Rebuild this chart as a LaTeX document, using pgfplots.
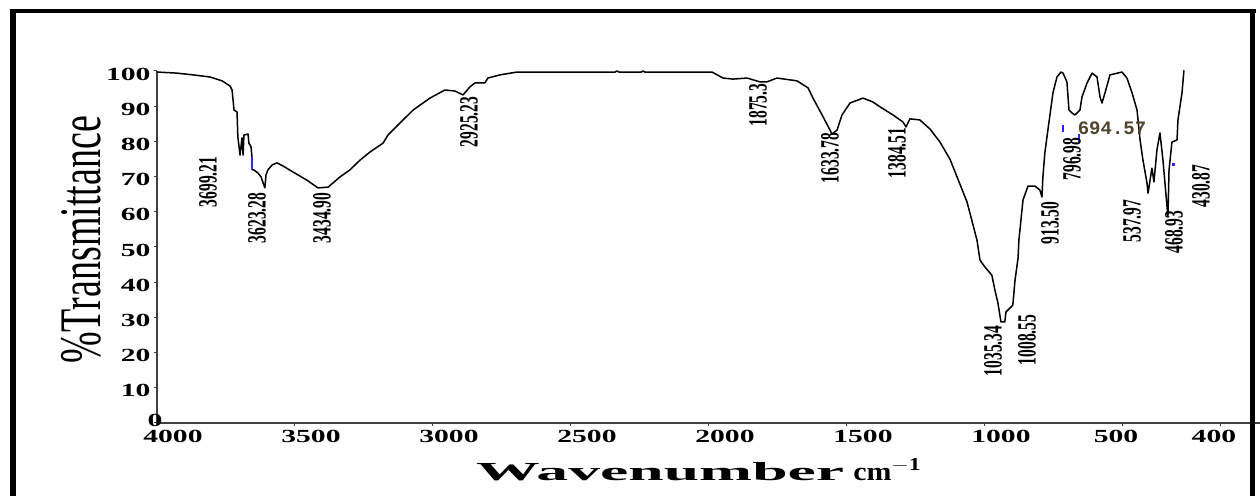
\documentclass[border=0pt]{standalone}
\usepackage{fontspec}
\setmainfont{Liberation Serif}
\setmonofont{Liberation Mono}
\usepackage{graphicx}
\usepackage{pgfplots}
\pgfplotsset{compat=1.18}
\definecolor{peakblue}{RGB}{40,40,255}
\definecolor{lbl}{RGB}{80,68,45}
\newcommand\tlab[1]{\scalebox{1.6}[1]{#1}}
\newcommand\pk[1]{\scalebox{1}[1.7]{\fontsize{15.5}{15.5}\selectfont\bfseries #1}}
\begin{document}
\begin{tikzpicture}
\useasboundingbox (0,0) rectangle (1260pt,495pt);
\begin{axis}[
  at={(157pt,72pt)}, anchor=south west, scale only axis,
  width=1104pt, height=352pt,
  xmin=0, xmax=4000, ymin=0, ymax=100, x dir=reverse,
  axis x line=bottom, axis y line=left,
  axis line style={-, line width=1.3pt, draw=black!75},
  tick align=outside, major tick length=3pt,
  tick style={line width=1pt, black!75},
  ticklabel style={font=\fontsize{18.5}{18.5}\selectfont\bfseries},
  xtick={4000,3500,3000,2500,2000,1500,1000},
  xticklabels={\tlab{4000},\tlab{3500},\tlab{3000},\tlab{2500},\tlab{2000},\tlab{1500},\tlab{1000}},
  xticklabel style={xshift=16pt, yshift=-1pt},
  extra x ticks={500,145},
  extra x tick labels={\tlab{500},\tlab{400}},
  extra x tick style={xticklabel style={xshift=-23pt}},
  ytick={10,20,30,40,50,60,70,80,90,100},
  yticklabels={\tlab{10},\tlab{20},\tlab{30},\tlab{40},\tlab{50},\tlab{60},\tlab{70},\tlab{80},\tlab{90},\tlab{100}},
  yticklabel style={anchor=east, yshift=-3pt},
  extra y ticks={0},
  extra y tick labels={\tlab{0}},
  extra y tick style={yticklabel style={xshift=12pt, yshift=6pt}},
  clip=false,
]
\addplot[black, line width=1.5pt, line join=round] coordinates {
(4000,99.7) (3928,99.4) (3870,98.9) (3808,98.3) (3764,97.2) (3735,95.7) (3728,94.6)
(3725,92.3) (3721,88.9) (3710,88.4) (3707,81.3) (3699,76.1) (3692,81.0) (3688,76.1)
(3685,81.8) (3670,82.1) (3667,79.5) (3659,78.4) (3656,75.6) (3655,71.9) (3649,71.9)
(3634,71.0) (3623,69.9) (3609,66.8) (3605,70.5) (3598,71.9) (3583,73.3) (3565,73.9)
(3543,73.0) (3507,71.3) (3457,69.0) (3417,66.8) (3380,67.0) (3337,69.9) (3301,71.9)
(3264,74.7) (3228,77.0) (3181,79.5) (3163,81.8) (3120,85.2) (3072,88.9) (3011,92.3)
(2957,94.6) (2920,94.3) (2891,93.2) (2866,95.5) (2848,96.6) (2812,96.6) (2801,98.0)
(2757,98.9) (2696,99.7) (2340,99.7) (2333,100.0) (2326,99.7) (2245,99.7) (2239,100.0)
(2232,99.7) (1989,99.7) (1949,98.0) (1913,97.7) (1862,98.0) (1815,96.9) (1790,96.9)
(1754,98.0) (1681,97.2) (1641,95.2) (1623,92.3) (1586,86.9) (1554,82.1) (1536,83.2)
(1518,87.5) (1489,90.9) (1442,92.3) (1406,91.2) (1380,89.8) (1333,87.5) (1297,85.5)
(1286,84.1) (1272,86.4) (1236,86.1) (1199,83.5) (1163,79.8) (1127,75.0) (1098,69.3)
(1065,62.8) (1029,52.0) (1018,46.3) (1000,44.3) (975,42.0) (964,37.8) (953,34.1)
(942,28.7) (928,28.7) (924,31.5) (909,32.7) (899,33.5) (891,40.6) (880,46.9)
(877,52.0) (862,63.4) (844,67.3) (819,67.3) (801,66.2) (793.5,64.2) (790,69.9)
(783,76.7) (772,83.2) (764.5,87.5) (753.6,93.8) (739,98.3) (724.6,99.7) (717,99.4)
(703,96.9) (695.6,88.9) (684.8,88.1) (674,87.5) (655.8,88.9) (648.5,92.6) (630,96.6)
(612,99.4) (594,98.3) (583,92.6) (576,90.9) (565,93.8) (547,98.9) (503.6,99.7)
(485.5,98.0) (467,93.8) (449,88.9) (438,80.4) (427.5,74.7) (413,68.2) (409,65.3)
(395,72.4) (387.7,68.5) (376.8,77.6) (366,82.4) (355,74.7) (347.8,68.2) (337,58.5)
(333,71.9) (322.5,79.8) (304,80.4) (300.7,86.1) (286,93.8) (279,100.2)
};
\addplot[peakblue, line width=1.6pt] coordinates {(3656,75.6) (3655,71.9)};
\addplot[peakblue, line width=1.6pt] coordinates {(717,84.7) (717,82.7)};
\addplot[peakblue, line width=1.6pt] coordinates {(659,82.1) (659,79.8)};
\addplot[peakblue, only marks, mark=square*, mark size=1pt] coordinates {(319,73.6)};
\end{axis}
% axis titles
\node[rotate=90, anchor=base, inner sep=0pt] at (100pt,255pt)
  {\scalebox{1}[1.55]{\fontsize{38}{38}\selectfont\%Transmittance}};
\node[anchor=base west, inner sep=0pt] at (476pt,15pt)
  {\bfseries\fontsize{26}{26}\selectfont\scalebox{2.45}[1]{Wavenumber}\hspace{9pt}\scalebox{1.15}[1]{cm}\scalebox{1.3}[1]{$^{\mathbf{-1}}$}};
% peak labels
\node[rotate=90, inner sep=0pt] at (208pt,313pt) {\pk{3699.21}};
\node[rotate=90, inner sep=0pt] at (257pt,277pt) {\pk{3623.28}};
\node[rotate=90, inner sep=0pt] at (322pt,277pt) {\pk{3434.90}};
\node[rotate=90, inner sep=0pt] at (469pt,373pt) {\pk{2925.23}};
\node[rotate=90, inner sep=0pt] at (758pt,390pt) {\pk{1875.3}};
\node[rotate=90, inner sep=0pt] at (830pt,337pt) {\pk{1633.78}};
\node[rotate=90, inner sep=0pt] at (897pt,342pt) {\pk{1384.51}};
\node[rotate=90, inner sep=0pt] at (993pt,144pt) {\pk{1035.34}};
\node[rotate=90, inner sep=0pt] at (1027pt,155pt) {\pk{1008.55}};
\node[rotate=90, inner sep=0pt] at (1050pt,272pt) {\pk{913.50}};
\node[rotate=90, inner sep=0pt] at (1072pt,336pt) {\pk{796.98}};
\node[rotate=90, inner sep=0pt] at (1132pt,274pt) {\pk{537.97}};
\node[rotate=90, inner sep=0pt] at (1174pt,263pt) {\pk{468.93}};
\node[rotate=90, inner sep=0pt] at (1201pt,309pt) {\pk{430.87}};
\node[inner sep=0pt, text=lbl] at (1112pt,367pt) {\ttfamily\bfseries\fontsize{19}{19}\selectfont 694.57};
% frame
\draw[line width=6pt] (12.5pt,-5pt) -- (12.5pt,486pt);
\draw[line width=4pt] (9.5pt,484pt) -- (1255.5pt,484pt);
\draw[line width=5pt] (1252.5pt,486pt) -- (1252.5pt,-5pt);
\end{tikzpicture}
\end{document}
